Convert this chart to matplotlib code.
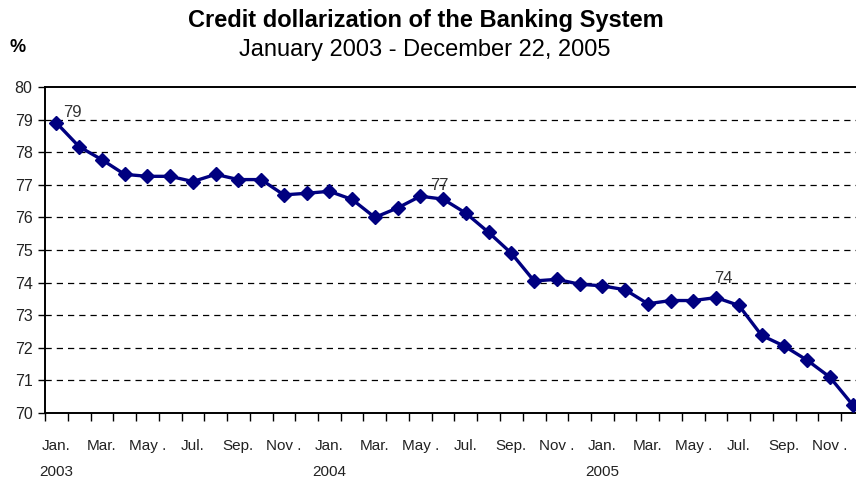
import numpy as np
import matplotlib.pyplot as plt
from matplotlib import transforms

plt.rcParams['font.family'] = ['Liberation Sans', 'DejaVu Sans']

# monthly credit dollarization, Jan 2003 - Dec 2005 (%)
dollarization = [78.9, 78.17, 77.77, 77.32, 77.26, 77.26, 77.1, 77.32, 77.16, 77.16, 76.69, 76.74,
                 76.8, 76.55, 76.0, 76.29, 76.65, 76.56, 76.13, 75.54, 74.9, 74.05,
                 74.1, 73.95, 73.9, 73.78, 73.35, 73.45, 73.45, 73.54, 73.3, 72.38,
                 72.05, 71.62, 71.1, 70.25]
month_labels = ['Jan.', 'Mar.', 'May .', 'Jul.', 'Sep.', 'Nov .']
years = ['2003', '2004', '2005']
# (index, text, dx px, dy px)
point_labels = [(0, '79', 16, 10), (16, '77', 19, 11), (29, '74', 7, 19), (35, '70', 13, 13)]

x = np.arange(len(dollarization))

fig = plt.figure(figsize=(8.56, 4.8), dpi=100)
ax = fig.add_axes([45/856, 1-413/480, 819/856, 326/480])

ax.plot(x, dollarization, color='#000080', lw=2.4, marker='D', ms=7, zorder=3, clip_on=False)

ax.set_xlim(-0.5, len(x) - 0.5)
ax.set_ylim(70, 80)
ax.set_yticks(range(70, 81))
for v in range(71, 80):
    ax.axhline(v, color='black', lw=0.9, ls=(0, (5, 4)), zorder=1)

ax.set_xticks(np.arange(-0.5, len(x), 1.0))
ax.set_xticklabels([])
ax.tick_params(axis='x', direction='out', length=6, width=1, color='black')
ax.tick_params(axis='y', direction='out', length=5, width=1, color='black', labelsize=11.5, pad=4, labelcolor='#222222')
for s in ['left', 'bottom', 'top']:
    ax.spines[s].set_linewidth(1.4)
ax.spines['right'].set_visible(False)

trans = transforms.blended_transform_factory(ax.transData, ax.transAxes)
for i in range(0, len(x), 2):
    ax.text(i, -0.1, month_labels[(i // 2) % 6], transform=trans, ha='center', va='center',
            fontsize=11, color='#222222')
for k, yr in enumerate(years):
    ax.text(12 * k, -0.18, yr, transform=trans, ha='center', va='center', fontsize=11, color='#222222')

for i, txt, dx, dy in point_labels:
    ax.annotate(txt, (x[i], dollarization[i]), xytext=(dx * 0.72, dy * 0.72), textcoords='offset points',
                ha='center', va='center', fontsize=12, color='#333333', annotation_clip=False)

fig.text(426/856, 1-21/480, 'Credit dollarization of the Banking System', ha='center', va='center',
         fontsize=17, fontweight='bold')
fig.text(425/856, 1-50/480, 'January 2003 - December 22, 2005', ha='center', va='center', fontsize=17)
fig.text(18/856, 1-47/480, '%', ha='center', va='center', fontsize=13, fontweight='bold')

fig.savefig('out.png', dpi=100)
